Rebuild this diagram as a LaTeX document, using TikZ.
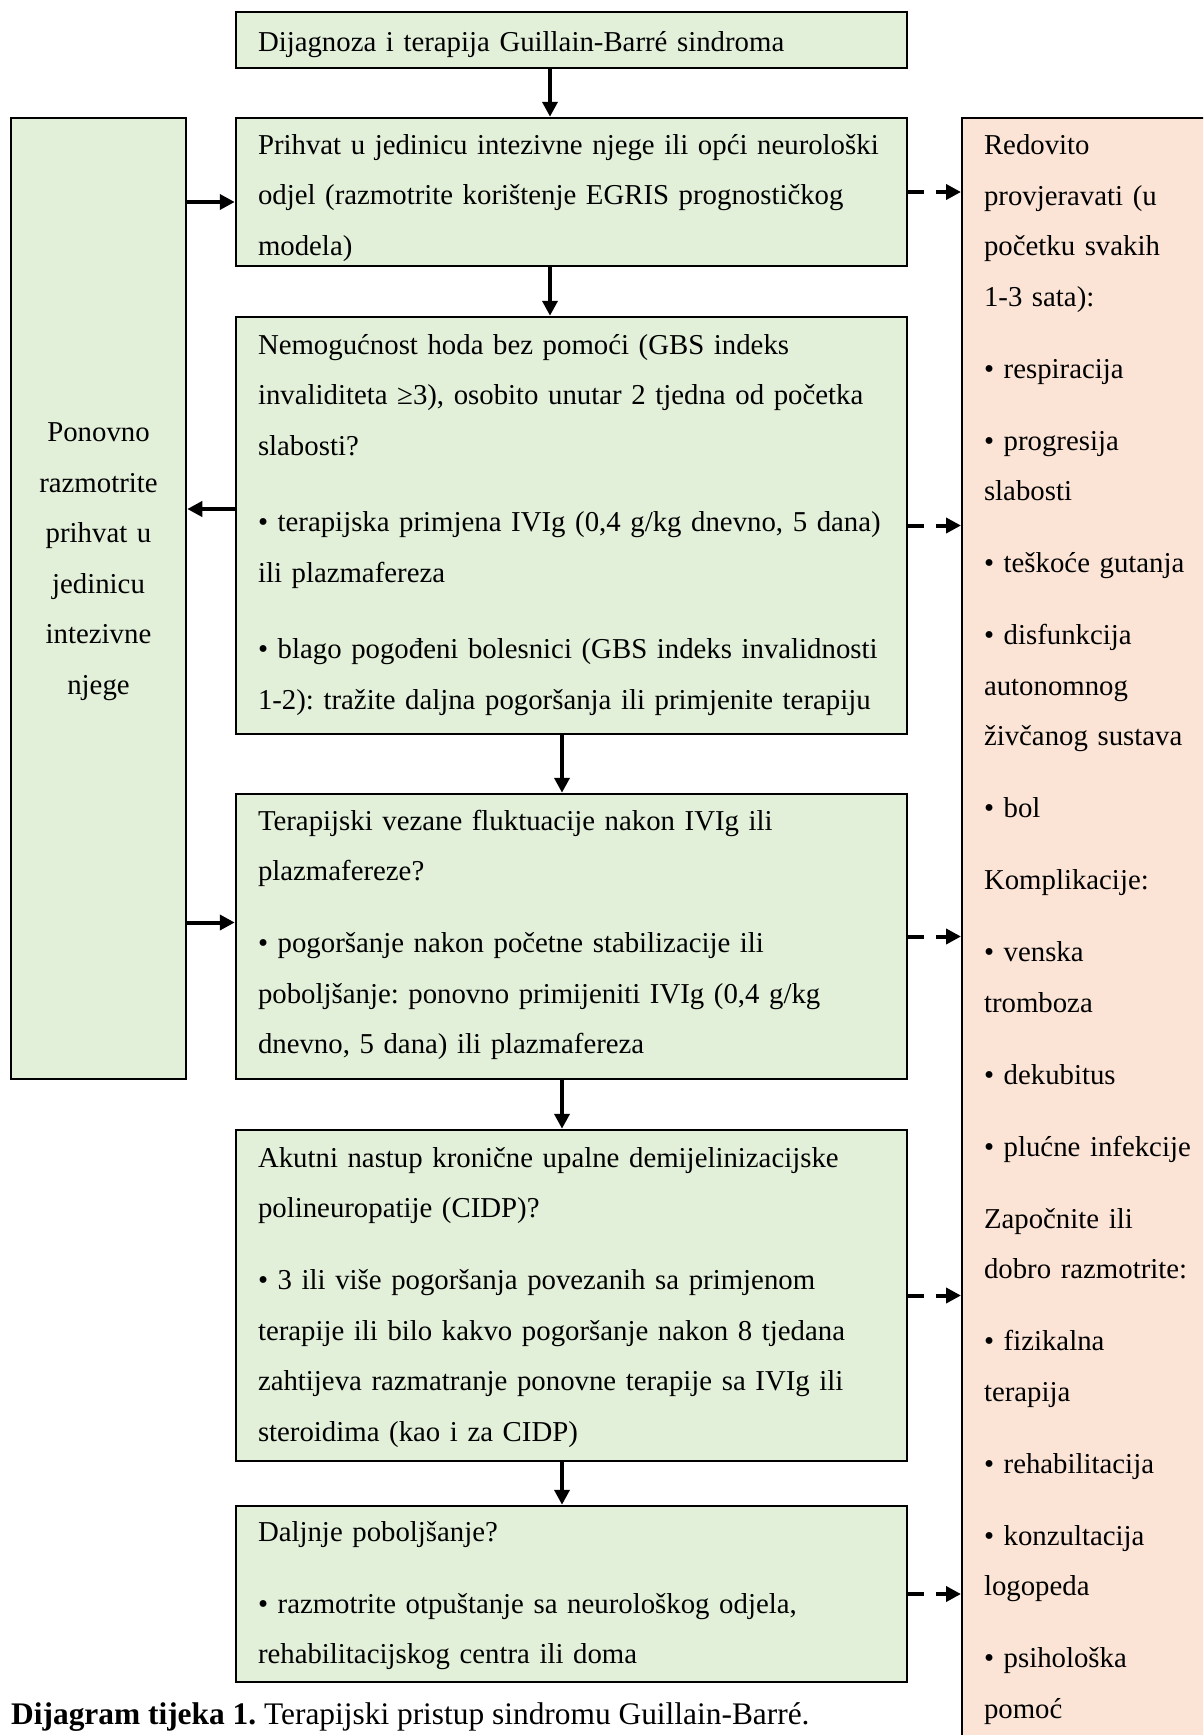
\documentclass[tikz,border=0pt]{standalone}
\usepackage{fontspec}
\setmainfont{Liberation Serif}
\usetikzlibrary{arrows.meta}
\definecolor{zelena}{HTML}{E2EFD9}
\definecolor{ruza}{HTML}{FBE4D5}
\frenchspacing
\begin{document}
\begin{tikzpicture}[>={Triangle[length=15pt,width=15pt]},x=1pt,y=-1pt,
	font={\fontsize{28.8}{50.5}\selectfont},
	okvir/.style={draw,line width=2.5pt,fill=zelena,text width=627pt,inner xsep=22pt,inner ysep=0pt,align=left},
	strelica/.style={->,line width=4pt},
	isprek/.style={->,line width=4pt,dash pattern=on 16pt off 12pt}]
	\def\gap{21.5pt} % razmak izmedju odlomaka
	\def\gore#1{\rule{0pt}{#1pt}} % visina prvog retka
	\def\dolje#1{\rule[-#1pt]{0pt}{0pt}} % dubina zadnjeg retka
	\useasboundingbox (0,0) rectangle (1203,1735);
	\clip (0,0) rectangle (1203,1735);
	% srednji stupac
	\node[okvir,minimum height=56pt] (dijag) at (571.5,40) {\gore{32}Dijagnoza i terapija Guillain-Barré sindroma\dolje{10}};
	\node[okvir,minimum height=148pt] (prihvat) at (571.5,192) {\gore{35}Prihvat u jedinicu intezivne njege ili opći neurološki\\
		odjel (razmotrite korištenje EGRIS prognostičkog\\ modela)\dolje{10}};
	\node[okvir,minimum height=417pt] (hod) at (571.5,525.5) {\gore{32}Nemogućnost hoda bez pomoći (GBS indeks\\
		invaliditeta ≥3), osobito unutar 2 tjedna od početka\\ slabosti?\\[26pt]
		• terapijska primjena IVIg (0,4 g/kg dnevno, 5 dana)\\ ili plazmafereza\\[26pt]
		• blago pogođeni bolesnici (GBS indeks invalidnosti\\ 1-2): tražite daljna pogoršanja ili primjenite terapiju\dolje{20}};
	\node[okvir,minimum height=285pt] (fluk) at (571.5,936.5) {\gore{30}Terapijski vezane fluktuacije nakon IVIg ili\\ plazmafereze?\\[\gap]
		• pogoršanje nakon početne stabilizacije ili\\ poboljšanje: ponovno primijeniti IVIg (0,4 g/kg\\
		dnevno, 5 dana) ili plazmafereza\dolje{19.5}};
	\node[okvir,minimum height=331pt] (cidp) at (571.5,1295.5) {\gore{30}Akutni nastup kronične upalne demijelinizacijske\\
		polineuropatije (CIDP)?\\[\gap]
		• 3 ili više pogoršanja povezanih sa primjenom\\ terapije ili bilo kakvo pogoršanje nakon 8 tjedana\\
		zahtijeva razmatranje ponovne terapije sa IVIg ili\\ steroidima (kao i za CIDP)\dolje{13}};
	\node[okvir,minimum height=176pt] (daljnje) at (571.5,1594) {\gore{30}Daljnje poboljšanje?\\[\gap]
		• razmotrite otpuštanje sa neurološkog odjela,\\ rehabilitacijskog centra ili doma\dolje{13.5}};
	% lijevi i desni stupac
	\node[okvir,align=center,text width=150pt,inner xsep=12.5pt,minimum height=961pt] (lijevo) at (98.5,598.5)
		{\gore{25}Ponovno\\ razmotrite\\ prihvat u\\ jedinicu\\ intezivne\\ njege\dolje{86}};
	\node[draw,line width=2pt,fill=ruza,anchor=north west,text width=230pt,inner xsep=22pt,inner ysep=17pt,align=left] (provjera) at (961,117)
		{Redovito\\ provjeravati (u\\ početku svakih\\ 1-3 sata):\\[\gap]
		• respiracija\\[\gap] • progresija\\ slabosti\\[\gap] • teškoće gutanja\\[\gap]
		• disfunkcija\\ autonomnog\\ živčanog sustava\\[\gap] • bol\\[\gap] Komplikacije:\\[\gap]
		• venska\\ tromboza\\[\gap] • dekubitus\\[\gap] • plućne infekcije\\[\gap]
		Započnite ili\\ dobro razmotrite:\\[\gap] • fizikalna\\ terapija\\[\gap] • rehabilitacija\\[\gap]
		• konzultacija\\ logopeda\\[\gap] • psihološka\\ pomoć\dolje{90}};
	\node[anchor=base west,inner sep=0pt,font=\fontsize{31.4}{40}\selectfont] (opis) at (11,1724)
		{\textbf{Dijagram tijeka 1.} Terapijski pristup sindromu Guillain-Barré.};
	% strelice
	\draw[strelica] ([xshift=-21.5pt]dijag.south) -- ([xshift=-21.5pt]prihvat.north);
	\draw[strelica] ([xshift=-21.5pt]prihvat.south) -- ([xshift=-21.5pt]hod.north);
	\draw[strelica] ([xshift=-9.5pt]hod.south) -- ([xshift=-9.5pt]fluk.north);
	\draw[strelica] ([xshift=-9.5pt]fluk.south) -- ([xshift=-9.5pt]cidp.north);
	\draw[strelica] ([xshift=-9.5pt]cidp.south) -- ([xshift=-9.5pt]daljnje.north);
	\coordinate (l1) at ([yshift=-10pt]prihvat.west);
	\coordinate (l2) at ([yshift=16.5pt]hod.west);
	\coordinate (l3) at ([yshift=14pt]fluk.west);
	\draw[strelica] (l1 -| lijevo.east) -- (l1);
	\draw[strelica] (l2) -- (l2 -| lijevo.east);
	\draw[strelica] (l3 -| lijevo.east) -- (l3);
	\foreach \n in {prihvat,hod,fluk,cidp,daljnje}
		\draw[isprek] (\n.east) -- (\n.east -| provjera.west);
\end{tikzpicture}
\end{document}
